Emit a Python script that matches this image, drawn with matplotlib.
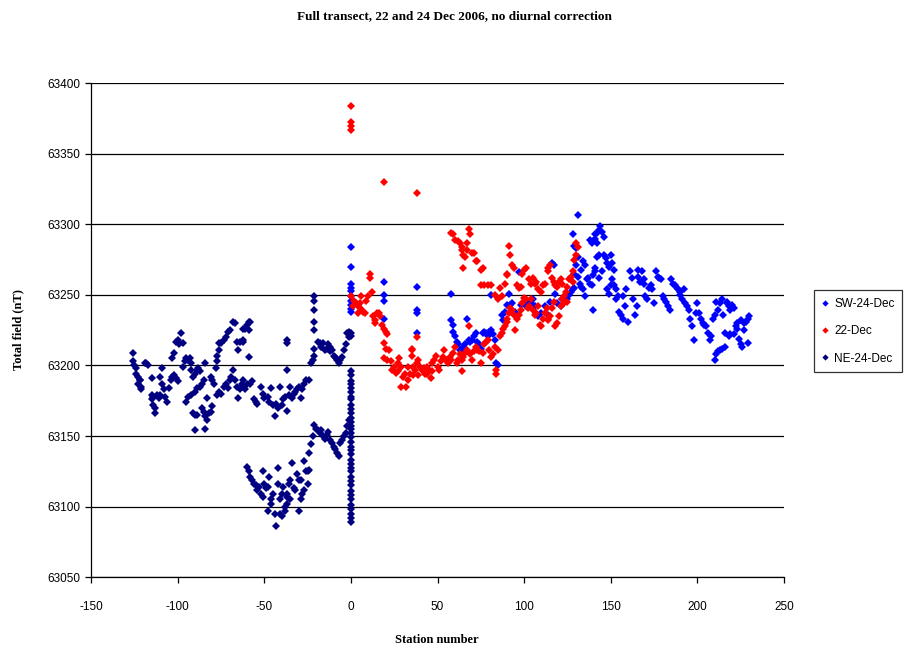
import numpy as np
import matplotlib
matplotlib.use('Agg')
import matplotlib.pyplot as plt
from matplotlib.lines import Line2D

plt.rcParams['axes.unicode_minus'] = False

# SW-24-Dec (station number, total field nT)
sw_pts = [
    (0, 63284), (0, 63270), (0, 63258), (0, 63255), (0, 63253), (0, 63249), (0, 63246),
    (0, 63243), (0, 63240), (0, 63238),
    (19, 63259), (19, 63250), (19, 63246), (19, 63233),
    (38, 63256), (38, 63239), (38, 63237), (38, 63223),
    (58, 63251), (58, 63232), (59, 63229), (59, 63224), (60, 63221), (61, 63217), (62, 63215),
    (63, 63211), (64, 63209), (64, 63210), (65, 63213), (66, 63215), (67, 63233), (68, 63218),
    (69, 63217), (70, 63218), (71, 63221), (72, 63223), (73, 63217), (74, 63215), (75, 63212),
    (76, 63223), (77, 63224), (78, 63223), (79, 63221), (80, 63224), (81, 63225), (82, 63222),
    (83, 63218), (84, 63202), (85, 63200), (81, 63250), (87, 63236), (88, 63232), (89, 63238),
    (90, 63243), (91, 63251), (92, 63243), (93, 63244), (95, 63238), (96, 63236), (97, 63266),
    (98, 63243), (100, 63245), (101, 63242), (102, 63244), (104, 63244), (105, 63247),
    (106, 63242), (108, 63235), (110, 63237), (112, 63242), (114, 63236), (115, 63245),
    (116, 63273), (117, 63271), (118, 63251), (119, 63244), (121, 63242), (122, 63247),
    (123, 63247), (124, 63249), (125, 63247), (126, 63250), (127, 63252), (128, 63254),
    (129, 63255), (131, 63307), (128, 63293), (129, 63285), (130, 63283), (131, 63277),
    (130, 63271), (129, 63265), (131, 63263), (132, 63258), (133, 63256), (134, 63254),
    (135, 63249), (133, 63268), (134, 63274), (135, 63271), (136, 63261), (137, 63262),
    (138, 63258), (139, 63257), (140, 63264), (138, 63289), (139, 63287), (140, 63288),
    (141, 63290), (141, 63293), (142, 63294), (143, 63296), (142, 63287), (142, 63277),
    (143, 63278), (140, 63239), (141, 63269), (141, 63267), (143, 63262),
    (144, 63299), (145, 63295), (146, 63291), (146, 63278), (147, 63276), (148, 63273),
    (149, 63270), (150, 63278), (151, 63273), (152, 63268), (145, 63267), (148, 63254),
    (149, 63251), (150, 63257), (151, 63261), (152, 63257), (153, 63254), (154, 63249),
    (155, 63238), (156, 63236), (157, 63233), (158, 63242), (159, 63254), (160, 63231),
    (161, 63267), (162, 63262), (163, 63247), (164, 63236), (165, 63242), (166, 63268),
    (166, 63263), (167, 63259), (168, 63267), (169, 63261), (170, 63249), (171, 63247),
    (172, 63255), (173, 63257), (174, 63254), (175, 63244), (176, 63267), (177, 63263),
    (178, 63262), (179, 63261), (180, 63249), (181, 63247), (182, 63245), (183, 63242),
    (184, 63239), (185, 63261), (186, 63258), (187, 63257), (188, 63255), (189, 63254),
    (190, 63252), (190, 63250), (191, 63247), (192, 63254), (193, 63244), (194, 63242),
    (195, 63239), (196, 63233), (197, 63228), (198, 63218), (199, 63237), (200, 63244),
    (201, 63237), (202, 63233), (203, 63230), (204, 63229), (205, 63228), (206, 63223),
    (207, 63218), (208, 63221), (209, 63233), (210, 63236), (211, 63245), (212, 63239),
    (213, 63244), (214, 63247), (215, 63236), (216, 63223), (217, 63245), (217, 63244),
    (218, 63242), (219, 63239), (220, 63243), (221, 63241), (222, 63228), (223, 63226),
    (224, 63219), (225, 63215), (226, 63213), (227, 63225), (228, 63231), (229, 63233),
    (230, 63235), (210, 63204), (211, 63208), (212, 63210), (213, 63211), (214, 63212),
    (216, 63213), (218, 63221), (219, 63222), (221, 63222), (223, 63230), (225, 63232),
    (227, 63230), (229, 63216), (169, 63258), (157, 63249), (153, 63247),
]

# 22-Dec
dec22_pts = [
    (0, 63384), (0, 63373), (0, 63370), (0, 63367), (19, 63330), (38, 63322),
    (0, 63249), (2, 63246), (3, 63244), (4, 63242), (5, 63244), (6, 63240), (7, 63238),
    (8, 63237), (9, 63246), (10, 63249), (11, 63265), (11, 63262), (12, 63252), (4, 63237),
    (6, 63249), (1, 63242), (13, 63235), (14, 63230), (14, 63232), (15, 63237), (16, 63237),
    (17, 63235), (18, 63229), (19, 63226), (20, 63224), (21, 63222), (19, 63216), (20, 63212),
    (22, 63211), (19, 63205), (21, 63204), (23, 63203), (24, 63197), (25, 63199), (27, 63202),
    (28, 63205), (29, 63199), (30, 63192), (31, 63194), (32, 63185), (29, 63185), (33, 63199),
    (34, 63194), (35, 63212), (35, 63207), (36, 63199), (37, 63197), (38, 63202), (38, 63220),
    (39, 63204), (39, 63193), (40, 63199), (41, 63197), (42, 63198), (43, 63194), (44, 63199),
    (45, 63197), (46, 63191), (47, 63202), (48, 63204), (49, 63207), (50, 63199), (51, 63197),
    (52, 63203), (53, 63206), (54, 63211), (55, 63204), (26, 63195), (33, 63190), (44, 63194),
    (47, 63196), (36, 63193), (27, 63196), (35, 63211),
    (56, 63202), (57, 63206), (58, 63204), (59, 63209), (60, 63213), (61, 63202), (62, 63204),
    (63, 63208), (64, 63196), (64, 63204), (65, 63206), (66, 63209), (67, 63211), (69, 63208),
    (70, 63204), (71, 63210), (72, 63213), (73, 63211), (74, 63210), (75, 63202), (76, 63209),
    (77, 63215), (78, 63217), (79, 63218), (80, 63211), (81, 63206), (82, 63208), (83, 63213),
    (84, 63194), (84, 63197), (85, 63211), (86, 63221), (87, 63223), (88, 63226), (89, 63228),
    (90, 63231), (90, 63233), (91, 63237), (92, 63241), (93, 63239), (94, 63236), (95, 63225),
    (96, 63233), (97, 63236), (98, 63239), (99, 63244), (100, 63248), (101, 63247),
    (102, 63241), (103, 63242), (104, 63247), (105, 63239), (106, 63236), (107, 63237),
    (108, 63242), (109, 63229), (110, 63228), (111, 63233), (112, 63237), (113, 63241),
    (114, 63233), (114, 63232), (115, 63235), (116, 63241), (117, 63245), (118, 63228),
    (119, 63230), (120, 63235), (121, 63242), (122, 63247), (123, 63249), (124, 63252),
    (125, 63256), (126, 63261), (127, 63263), (128, 63267), (129, 63275), (130, 63278),
    (131, 63284), (130, 63287), (128, 63259), (125, 63245), (123, 63244), (68, 63228),
    (58, 63294), (59, 63293), (62, 63288), (63, 63287), (64, 63284), (64, 63282), (65, 63278),
    (66, 63277), (67, 63282), (68, 63297), (69, 63293), (67, 63287), (65, 63269), (70, 63280),
    (71, 63280), (72, 63274), (73, 63274), (75, 63268), (76, 63269), (75, 63257), (77, 63257),
    (79, 63257), (81, 63257), (83, 63250), (85, 63247), (87, 63249), (86, 63255), (89, 63258),
    (90, 63264), (90, 63265), (91, 63285), (92, 63278), (93, 63271), (94, 63269), (96, 63257),
    (97, 63255), (98, 63256), (99, 63265), (100, 63268), (101, 63269), (103, 63261),
    (104, 63258), (105, 63262), (106, 63258), (107, 63259), (108, 63254), (110, 63252),
    (111, 63257), (112, 63258), (114, 63267), (114, 63269), (115, 63271), (116, 63262),
    (117, 63259), (118, 63257), (119, 63256), (120, 63259), (121, 63261), (122, 63258),
    (60, 63289),
]

# NE-24-Dec
ne_pts = [
    (-126, 63209), (-126, 63203), (-125, 63200), (-124, 63198), (-124, 63194), (-123, 63192),
    (-122, 63190), (-123, 63187), (-121, 63185), (-121, 63183), (-122, 63190), (-118, 63202),
    (-117, 63200), (-119, 63202), (-115, 63191), (-115, 63179), (-115, 63176), (-114, 63172),
    (-113, 63170), (-113, 63166), (-114, 63178), (-112, 63179), (-111, 63177), (-110, 63179),
    (-109, 63198), (-110, 63192), (-109, 63187), (-108, 63183), (-107, 63178), (-106, 63174),
    (-105, 63184), (-104, 63190), (-103, 63192), (-102, 63193), (-101, 63191), (-100, 63189),
    (-103, 63205), (-102, 63209), (-101, 63217), (-100, 63218), (-99, 63215), (-98, 63223),
    (-97, 63216), (-97, 63199), (-96, 63203), (-95, 63205), (-94, 63204), (-93, 63205),
    (-92, 63202), (-91, 63192), (-92, 63197), (-90, 63194), (-89, 63197), (-88, 63198),
    (-87, 63196), (-84, 63202), (-85, 63190), (-86, 63187), (-87, 63185), (-89, 63184),
    (-90, 63181), (-92, 63179), (-94, 63178), (-95, 63174), (-91, 63166), (-90, 63165),
    (-89, 63165), (-90, 63154), (-86, 63170), (-85, 63167), (-84, 63164), (-83, 63161),
    (-84, 63155), (-82, 63166), (-81, 63167), (-80, 63171), (-83, 63177), (-81, 63192),
    (-80, 63190), (-79, 63187), (-78, 63198), (-77, 63203), (-77, 63207), (-76, 63211),
    (-76, 63216), (-77, 63179), (-76, 63181),
    (-75, 63216), (-73, 63218), (-72, 63220), (-71, 63224), (-70, 63225), (-68, 63231),
    (-67, 63230), (-66, 63217), (-65, 63211), (-64, 63217), (-62, 63217), (-62, 63218),
    (-62, 63226), (-61, 63226), (-60, 63229), (-59, 63231), (-59, 63225), (-59, 63206),
    (-58, 63231),
    (-75, 63180), (-73, 63185), (-72, 63187), (-71, 63184), (-70, 63190), (-69, 63192),
    (-68, 63197), (-67, 63190), (-66, 63185), (-65, 63177), (-64, 63183), (-63, 63187),
    (-62, 63190), (-62, 63185), (-61, 63183), (-60, 63187), (-58, 63187), (-57, 63189),
    (-56, 63176), (-55, 63174), (-54, 63173), (-52, 63185), (-51, 63180), (-50, 63177),
    (-48, 63178), (-47, 63174), (-46, 63184), (-45, 63172), (-44, 63164), (-43, 63173),
    (-42, 63170), (-41, 63185), (-40, 63172), (-39, 63176), (-38, 63178), (-37, 63197),
    (-37, 63218), (-37, 63216), (-37, 63168), (-36, 63179), (-35, 63185), (-34, 63177),
    (-33, 63180), (-32, 63181), (-31, 63183), (-30, 63185), (-29, 63177), (-28, 63183),
    (-27, 63187), (-26, 63190), (-24, 63190), (-23, 63202), (-22, 63204), (-21, 63207),
    (-21, 63249), (-21, 63246), (-21, 63239), (-21, 63231), (-21, 63225), (-21, 63212),
    (-19, 63217), (-18, 63216), (-17, 63213), (-16, 63216), (-15, 63211), (-14, 63212),
    (-13, 63215), (-12, 63210), (-12, 63213), (-11, 63211), (-10, 63207), (-9, 63206),
    (-8, 63204), (-7, 63202), (-6, 63204), (-5, 63206), (-4, 63211), (-3, 63215),
    (-2, 63223), (-1, 63224), (-1, 63223), (0, 63223), (0, 63221), (-1, 63220),
    (-60, 63128), (-59, 63125), (-58, 63121), (-57, 63119), (-56, 63116), (-55, 63115),
    (-54, 63112), (-53, 63114), (-52, 63109), (-51, 63107), (-51, 63125), (-50, 63116),
    (-49, 63113), (-48, 63114), (-47, 63121), (-46, 63105), (-45, 63109), (-44, 63095),
    (-43, 63086), (-42, 63116), (-42, 63127), (-41, 63105), (-40, 63109), (-39, 63114),
    (-38, 63100), (-37, 63107), (-37, 63109), (-36, 63116), (-35, 63119), (-34, 63131),
    (-33, 63113), (-32, 63112), (-31, 63123), (-30, 63119), (-29, 63119), (-28, 63109),
    (-27, 63132), (-26, 63125), (-25, 63125), (-24, 63126), (-24, 63138), (-23, 63144),
    (-22, 63150), (-21, 63158), (-20, 63155), (-19, 63154), (-18, 63152), (-17, 63154),
    (-16, 63150), (-15, 63148), (-14, 63151), (-13, 63153), (-12, 63147), (-11, 63145),
    (-10, 63142), (-9, 63141), (-8, 63138), (-7, 63136), (-6, 63145), (-5, 63147),
    (-4, 63150), (-3, 63152), (-2, 63157), (-1, 63161), (-48, 63097), (-46, 63102),
    (-41, 63095), (-40, 63093), (-38, 63097), (-37, 63102), (-35, 63105), (-30, 63097),
    (-29, 63105), (-27, 63112), (-25, 63116),
    (0, 63196), (0, 63193), (0, 63189), (0, 63187), (0, 63184), (0, 63181), (0, 63178),
    (0, 63176), (0, 63172), (0, 63169), (0, 63166), (0, 63163), (0, 63160), (0, 63157),
    (0, 63155), (0, 63152), (0, 63149), (0, 63146), (0, 63142), (0, 63140), (0, 63137),
    (0, 63133), (0, 63130), (0, 63127), (0, 63125), (0, 63121), (0, 63118), (0, 63115),
    (0, 63111), (0, 63108), (0, 63105), (0, 63101), (0, 63098), (0, 63095), (0, 63092),
    (0, 63089),
]

series = [
    ('SW-24-Dec', sw_pts, '#0000ff'),
    ('22-Dec', dec22_pts, '#ff0000'),
    ('NE-24-Dec', ne_pts, '#000080'),
]

fig = plt.figure(figsize=(9.09, 6.52), dpi=100)
ax = fig.add_axes([0.1001, 0.115, 0.7624, 0.757])

for name, pts, col in series:
    arr = np.array(pts, dtype=float)
    ax.plot(arr[:, 0], arr[:, 1], linestyle='none', marker='D', markersize=4.3,
            color=col, markeredgewidth=0, label=name)

ax.set_xlim(-150, 250)
ax.set_ylim(63050, 63400)
ax.set_xticks(np.arange(-150, 251, 50))
ax.set_yticks(np.arange(63050, 63401, 50))
ax.yaxis.grid(True, color='black', linewidth=0.9)
ax.set_axisbelow(True)
for s in ['top', 'right']:
    ax.spines[s].set_visible(False)
for s in ['left', 'bottom']:
    ax.spines[s].set_linewidth(0.9)
ax.tick_params(direction='out', length=4, width=0.9, labelsize=8.5, pad=4)
ax.tick_params(axis='x', pad=13)
for lab in ax.get_xticklabels() + ax.get_yticklabels():
    lab.set_fontfamily('Liberation Sans')

fig.text(0.5, 0.975, 'Full transect, 22 and 24 Dec 2006, no diurnal correction',
         ha='center', va='center', fontsize=9.5, fontweight='bold', family='Liberation Serif')
fig.text(0.481, 0.018, 'Station number', ha='center', va='center', fontsize=9,
         fontweight='bold', family='Liberation Serif')
fig.text(0.02, 0.495, 'Total field (nT)', ha='center', va='center', rotation=90,
         fontsize=9, fontweight='bold', family='Liberation Serif')

handles = [Line2D([], [], linestyle='none', marker='D', markersize=3.2, color=c,
                  markeredgewidth=0) for _, _, c in series]
leg = fig.legend(handles, [n for n, _, _ in series], loc='upper left',
                 bbox_to_anchor=(0.895, 0.555), borderaxespad=0, frameon=True,
                 fancybox=False, edgecolor='black', handlelength=0.6, handletextpad=0.5,
                 labelspacing=1.3, borderpad=0.65,
                 prop={'family': 'Liberation Sans', 'size': 8.5})
leg.get_frame().set_linewidth(0.9)

fig.savefig('out.png', dpi=100)
